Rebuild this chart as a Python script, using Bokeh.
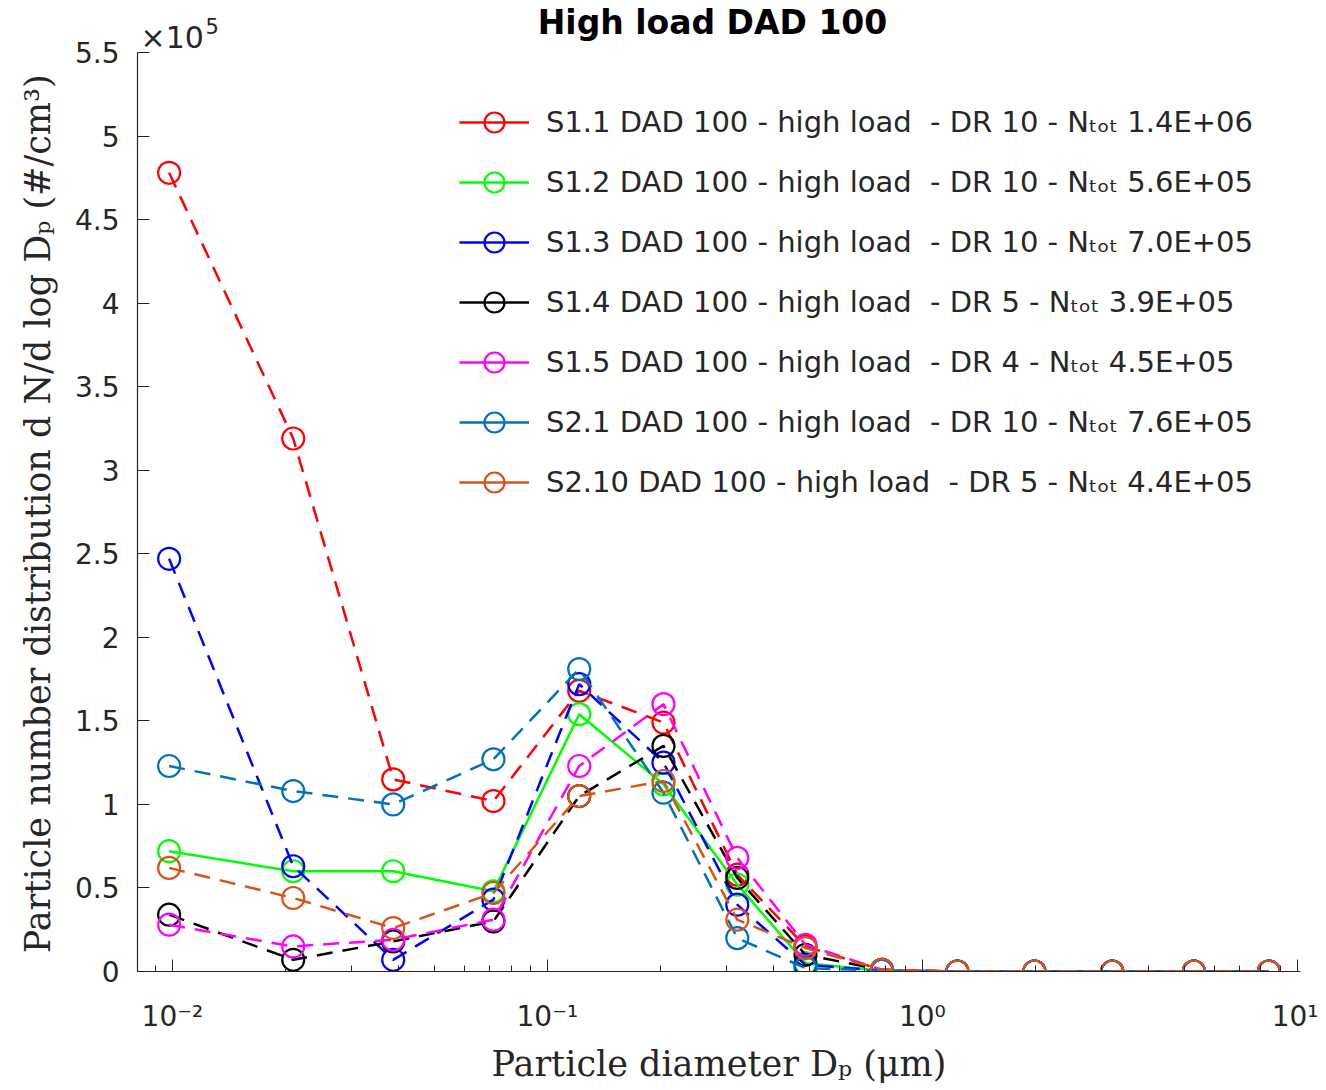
from bokeh.plotting import figure
from bokeh.models import (Range1d, FixedTicker, CustomJSTickFormatter, Legend,
                          LegendItem, Label)
from bokeh.embed import file_html
from bokeh.resources import INLINE

# ---------------- data ----------------
diameter_um = [0.0098, 0.021, 0.0388, 0.0718, 0.1216, 0.204, 0.321, 0.488,
               0.78, 1.24, 1.99, 3.21, 5.3, 8.4]

s1_1 = [478000, 319000, 115000, 102000, 168000, 149000, 58000, 15000, 1000, 0, 0, 0, 0, 0]
s1_2 = [72000, 60000, 60000, 48000, 154000, 112000, 52000, 5000, 500, 0, 0, 0, 0, 0]
s1_3 = [247000, 63000, 7000, 43000, 172000, 125000, 40000, 4000, 500, 0, 0, 0, 0, 0]
s1_4 = [34000, 7000, 18000, 30000, 105000, 135000, 56000, 10000, 1000, 0, 0, 0, 0, 0]
s1_5 = [28000, 15000, 19000, 31000, 123000, 160000, 68000, 16000, 1000, 0, 0, 0, 0, 0]
s2_1 = [123000, 108000, 100000, 127000, 181000, 107000, 20000, 2000, 500, 0, 0, 0, 0, 0]
s2_10 = [62000, 44000, 26000, 47000, 105000, 114000, 31000, 14000, 1000, 0, 0, 0, 0, 0]

labels = [
    "S1.1 DAD 100 - high load  - DR 10 - N\u209c\u2092\u209c 1.4E+06",
    "S1.2 DAD 100 - high load  - DR 10 - N\u209c\u2092\u209c 5.6E+05",
    "S1.3 DAD 100 - high load  - DR 10 - N\u209c\u2092\u209c 7.0E+05",
    "S1.4 DAD 100 - high load  - DR 5 - N\u209c\u2092\u209c 3.9E+05",
    "S1.5 DAD 100 - high load  - DR 4 - N\u209c\u2092\u209c 4.5E+05",
    "S2.1 DAD 100 - high load  - DR 10 - N\u209c\u2092\u209c 7.6E+05",
    "S2.10 DAD 100 - high load  - DR 5 - N\u209c\u2092\u209c 4.4E+05",
]
series_values = [s1_1, s1_2, s1_3, s1_4, s1_5, s2_1, s2_10]
colors = ["#ff0000", "#00ff00", "#0000ff", "#000000", "#ff00ff", "#0072bd", "#d95319"]
dashes = ["16 10", "solid", "16 10", "16 10", "16 10", "16 10", "16 10"]

y_ticks = [0, 50000, 100000, 150000, 200000, 250000, 300000, 350000,
           400000, 450000, 500000, 550000]
x_ticks = [0.01, 0.1, 1, 10]
title_text = "High load DAD 100"
y_multiplier_base = "\u00d710"
y_multiplier_exp = "5"
x_label = "Particle diameter D\u209a (\u03bcm)"
y_label = "Particle number distribution d N/d log D\u209a (#/cm\u00b3)"

AX = "#262626"
SANS = "DejaVu Sans"
SERIF = "DejaVu Serif"

FRAME_H = 971          # frame spans canvas y 0..971 (axis itself only 0..5.5e5)
AXIS_TOP_PX = 52       # where 5.5e5 sits
y_top = 550000 * FRAME_H / (FRAME_H - AXIS_TOP_PX)

p = figure(width=1318, height=1088, x_axis_type="log",
           x_range=Range1d(0.00807, 10.2), y_range=Range1d(0, y_top),
           output_backend="svg", toolbar_location=None,
           min_border_left=137, min_border_right=18,
           min_border_top=0, min_border_bottom=117)
p.title.visible = False

p.outline_line_color = None
p.xgrid.visible = False
p.ygrid.visible = False
p.background_fill_color = "white"
p.border_fill_color = "white"

# x axis
minor = [m * 10.0 ** e for e in (-3, -2, -1, 0) for m in range(2, 10)]
p.xaxis.ticker = FixedTicker(ticks=x_ticks, minor_ticks=minor)
p.xaxis.formatter = CustomJSTickFormatter(code="""
const sup = {'-':'\u207b','0':'\u2070','1':'\u00b9','2':'\u00b2','3':'\u00b3'};
const e = Math.round(Math.log10(tick));
return '10' + String(e).split('').map(c => sup[c]).join('');
""")
p.xaxis.axis_label = x_label

# y axis (frame is taller than the axis; pad the label so it centres on the axis)
p.yaxis.ticker = FixedTicker(ticks=y_ticks, minor_ticks=[])
p.yaxis.bounds = (0, 550000)
p.yaxis.formatter = CustomJSTickFormatter(code="""
const v = Math.round(tick / 1e5 * 10) / 10;
return v.toString();
""")
p.yaxis.axis_label = y_label + "\u00a0" * 5

for ax in (p.xaxis[0], p.yaxis[0]):
    ax.axis_line_color = AX
    ax.axis_line_width = 1.2
    ax.major_tick_line_color = AX
    ax.minor_tick_line_color = AX
    ax.major_tick_in = 12
    ax.major_tick_out = 0
    ax.minor_tick_in = 6
    ax.minor_tick_out = 0
    ax.major_label_text_font = SANS
    ax.major_label_text_font_size = "28px"
    ax.major_label_text_color = AX
    ax.axis_label_text_font = SERIF
    ax.axis_label_text_font_size = "35px"
    ax.axis_label_text_font_style = "normal"
    ax.axis_label_text_color = AX

p.xaxis.major_label_standoff = 28
p.xaxis.axis_label_standoff = 8
p.yaxis.major_label_standoff = 18
p.yaxis.axis_label_standoff = 14

items = []
for lab, vals, col, dash in zip(labels, series_values, colors, dashes):
    p.line(diameter_um, vals, line_color=col, line_width=2.5, line_dash=dash)
    sc = p.scatter(diameter_um, vals, marker="circle", size=22, fill_color=None,
                   line_color=col, line_width=2.2)
    # solid line used only for the legend swatch
    leg_line = p.line(x=[diameter_um[0]], y=[float("nan")], line_color=col, line_width=2.5)
    items.append(LegendItem(label=lab, renderers=[leg_line, sc]))

legend = Legend(items=items, location=(322, 464), glyph_width=70, glyph_height=50,
                label_height=50, spacing=10, padding=0, margin=0, label_standoff=17,
                border_line_color=None, background_fill_alpha=0,
                label_text_font=SANS, label_text_font_size="29px",
                label_text_color="#262626")
p.add_layout(legend)

title_label = Label(x=575, y=FRAME_H - 22, x_units="screen", y_units="screen",
                    text=title_text, text_font=SANS, text_font_size="33px",
                    text_font_style="bold", text_color="#000000",
                    text_align="center", text_baseline="middle")
p.add_layout(title_label)

exp_base = Label(x=3, y=FRAME_H - 37, x_units="screen", y_units="screen",
                 text=y_multiplier_base, text_font=SANS, text_font_size="30px",
                 text_color=AX, text_baseline="middle")
p.add_layout(exp_base)
exp_pow = Label(x=68, y=FRAME_H - 25, x_units="screen", y_units="screen",
                text=y_multiplier_exp, text_font=SANS, text_font_size="21px",
                text_color=AX, text_baseline="middle")
p.add_layout(exp_pow)

open("out.html", "w").write(file_html(p, INLINE))
